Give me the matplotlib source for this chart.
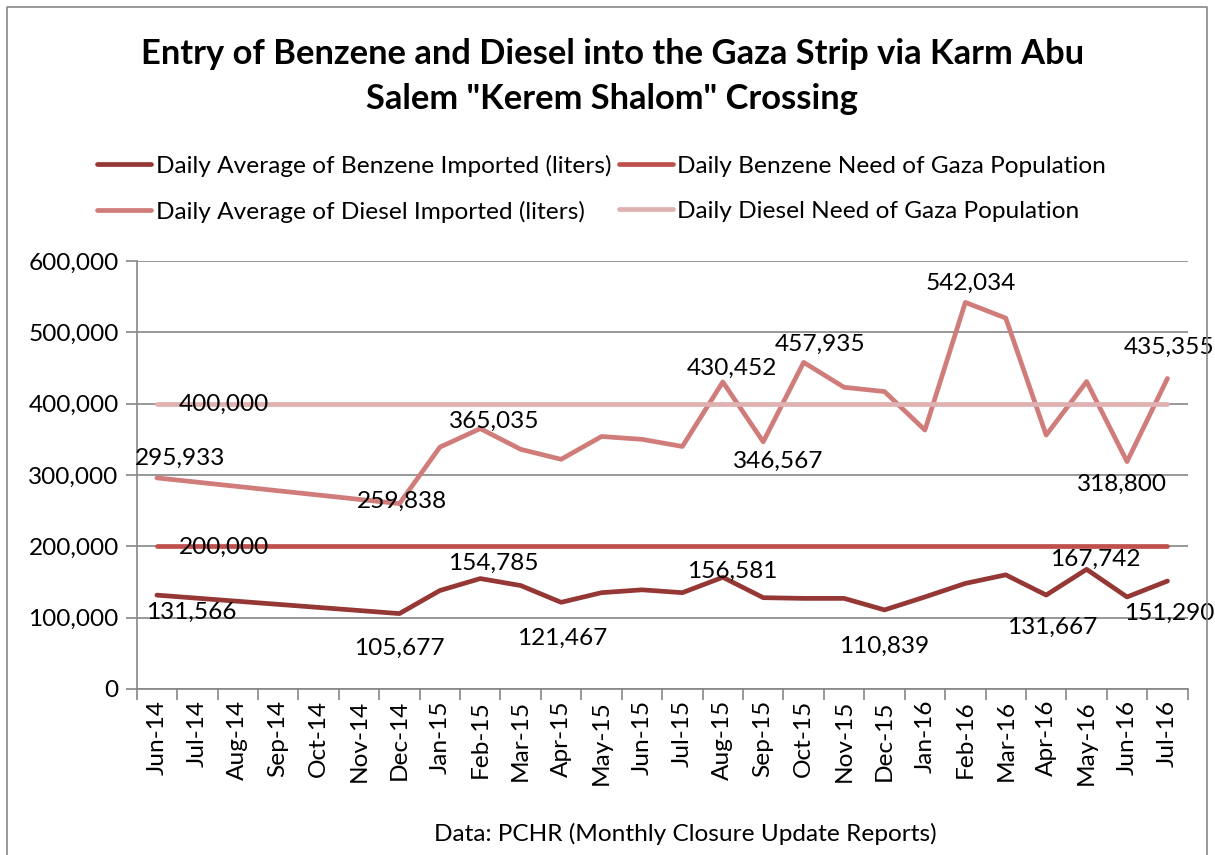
import numpy as np
import matplotlib.pyplot as plt
from matplotlib.lines import Line2D

months = ['Jun-14', 'Jul-14', 'Aug-14', 'Sep-14', 'Oct-14', 'Nov-14', 'Dec-14',
          'Jan-15', 'Feb-15', 'Mar-15', 'Apr-15', 'May-15', 'Jun-15', 'Jul-15',
          'Aug-15', 'Sep-15', 'Oct-15', 'Nov-15', 'Dec-15', 'Jan-16', 'Feb-16',
          'Mar-16', 'Apr-16', 'May-16', 'Jun-16', 'Jul-16']

# months with reported data (Jul-14 .. Nov-14 missing, line joins across)
data_months = ['Jun-14', 'Dec-14', 'Jan-15', 'Feb-15', 'Mar-15', 'Apr-15', 'May-15',
               'Jun-15', 'Jul-15', 'Aug-15', 'Sep-15', 'Oct-15', 'Nov-15', 'Dec-15',
               'Jan-16', 'Feb-16', 'Mar-16', 'Apr-16', 'May-16', 'Jun-16', 'Jul-16']

benzene_avg = [131566, 105677, 138000, 154785, 145000, 121467, 135000,
               139000, 135000, 156581, 128000, 127000, 127000, 110839,
               129000, 148000, 160000, 131667, 167742, 129000, 151290]
diesel_avg = [295933, 259838, 339000, 365035, 336000, 322000, 354000,
              350000, 340000, 430452, 346567, 457935, 423000, 417000,
              363000, 542034, 520000, 356000, 431000, 318800, 435355]
benzene_need = [200000] * len(data_months)
diesel_need = [400000] * len(data_months)

labels = ['Daily Average of Benzene Imported (liters)',
          'Daily Benzene Need of Gaza Population',
          'Daily Average of Diesel Imported (liters)',
          'Daily Diesel Need of Gaza Population']
colors = ['#953735', '#C0504D', '#D07C7A', '#DFB1B0']

# which points carry a value label, with offset in pixels (dx, dy)
benzene_lbl = {'Jun-14': (34, -17), 'Dec-14': (0, -35), 'Feb-15': (13, 15),
               'Apr-15': (1, -36), 'Aug-15': (9, 6), 'Dec-15': (0, -36),
               'Apr-16': (6, -32), 'May-16': (9, 10), 'Jul-16': (2, -32)}
diesel_lbl = {'Jun-14': (23, 20), 'Dec-14': (3, 2), 'Feb-15': (14, 7),
              'Aug-15': (9, 14), 'Sep-15': (15, -20), 'Oct-15': (16, 18),
              'Feb-16': (5, 19), 'Jun-16': (-5, -23), 'Jul-16': (2, 31)}
need_lbl = {'Jun-14': (67, -1)}

FS = 17.6
plt.rcParams['font.family'] = ['Lato', 'DejaVu Sans']

fig = plt.figure(figsize=(12.15, 8.55), dpi=100)
ax = fig.add_axes([0.1125, 0.1942, 0.865, 0.5005])

x = [months.index(m) for m in data_months]
series = [benzene_avg, benzene_need, diesel_avg, diesel_need]
for vals, c, lab in zip(series, colors, labels):
    ax.plot(x, vals, color=c, lw=3.4, solid_capstyle='round',
            solid_joinstyle='round', label=lab)


def put_labels(vals, lbls):
    for m, (dx, dy) in lbls.items():
        i = data_months.index(m)
        ax.annotate(f'{vals[i]:,}', (x[i], vals[i]), xytext=(dx, dy),
                    textcoords='offset pixels', ha='center', va='center',
                    fontsize=FS, color='black', annotation_clip=False)


put_labels(benzene_avg, benzene_lbl)
put_labels(diesel_avg, diesel_lbl)
put_labels(benzene_need, need_lbl)
put_labels(diesel_need, need_lbl)

ax.set_xlim(-0.5, len(months) - 0.5)
ax.set_ylim(0, 600000)
ax.set_yticks(np.arange(0, 600001, 100000))
ax.set_yticklabels(['0'] + [f'{v:,}' for v in range(100000, 600001, 100000)])
ax.set_xticks(range(len(months)))
ax.set_xticklabels(months, rotation=90)
ax.set_xticks(np.arange(-0.5, len(months), 1), minor=True)
ax.tick_params(axis='x', which='major', length=0, labelsize=FS, pad=8)
ax.tick_params(axis='x', which='minor', length=8, color='#868686', width=1.2)
ax.tick_params(axis='y', length=8, color='#868686', width=1.2, labelsize=FS, pad=5)
ax.grid(axis='y', color='#868686', lw=1.2)
ax.set_axisbelow(True)
for s in ['top', 'right']:
    ax.spines[s].set_visible(False)
for s in ['left', 'bottom']:
    ax.spines[s].set_color('#868686')
    ax.spines[s].set_linewidth(1.2)

h = [Line2D([], [], color=c, lw=3.4, solid_capstyle='round') for c in colors]
order = [0, 2, 1, 3]
fig.legend([h[i] for i in order], [labels[i] for i in order], ncol=2,
           loc='upper left', bbox_to_anchor=(0.062, 0.845), frameon=False,
           fontsize=FS, handlelength=2.2, handletextpad=0.2,
           columnspacing=0.3, labelspacing=0.98)

fig.text(0.504, 0.9105, 'Entry of Benzene and Diesel into the Gaza Strip via Karm Abu\n'
         'Salem "Kerem Shalom" Crossing', ha='center', va='center',
         fontsize=24.8, fontweight='bold', linespacing=1.5)
fig.text(0.564, 0.025, 'Data: PCHR (Monthly Closure Update Reports)',
         ha='center', va='center', fontsize=FS)

# chart frame
fig.add_artist(Line2D([0.006, 0.006, 0.9935, 0.9935], [0.0, 0.992, 0.992, 0.0],
                      transform=fig.transFigure, color='#888888', lw=1.2))

fig.savefig('out.png', dpi=100)
